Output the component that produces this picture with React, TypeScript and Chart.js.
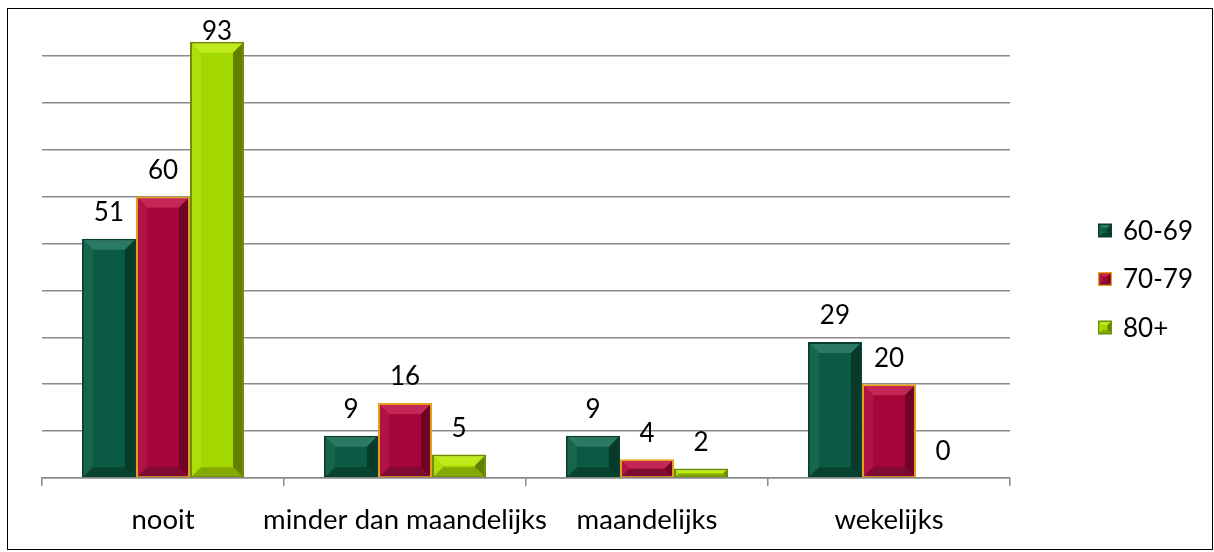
import React, { useEffect, useRef } from "react";
import { Chart, registerables } from "chart.js";

Chart.register(...registerables);

const categories = ["nooit", "minder dan maandelijks", "maandelijks", "wekelijks"];
const seriesNames = ["60-69", "70-79", "80+"];
const values6069 = [51, 9, 9, 29];
const values7079 = [60, 16, 4, 20];
const values80 = [93, 5, 2, 0];
const yTicksMax = 100;
const yStep = 10;

const FONT = "Lato, 'Liberation Sans', sans-serif";
const FONT_SIZE = 26;
const CAT_FONT_SIZE = 27.5;

const palette = [
  { base: "#0B5A44", top: "#2A7A63", left: "#16654D", right: "#063A2B", bottom: "#07432F", border: "#083E2F" },
  { base: "#A4063A", top: "#C42655", left: "#B01447", right: "#700427", bottom: "#7E0B30", border: "#E3A21A" },
  { base: "#A3D700", top: "#BFEA1C", left: "#AEDE0C", right: "#627F00", bottom: "#84A900", border: "#6E8C00" },
];

function drawBevel(ctx: CanvasRenderingContext2D, x0: number, y0: number, x1: number, y1: number, c: any, maxB: number) {
  const w = x1 - x0;
  const h = y1 - y0;
  if (w <= 0 || h <= 0) return;
  const b = Math.min(maxB, h / 2, w / 2);
  const poly = (pts: number[][], col: string) => {
    ctx.beginPath();
    ctx.moveTo(pts[0][0], pts[0][1]);
    for (let i = 1; i < pts.length; i++) ctx.lineTo(pts[i][0], pts[i][1]);
    ctx.closePath();
    ctx.fillStyle = col;
    ctx.fill();
  };
  poly([[x0, y0], [x1, y0], [x1 - b, y0 + b], [x0 + b, y0 + b]], c.top);
  poly([[x0, y0], [x0 + b, y0 + b], [x0 + b, y1 - b], [x0, y1]], c.left);
  poly([[x1, y0], [x1, y1], [x1 - b, y1 - b], [x1 - b, y0 + b]], c.right);
  poly([[x0, y1], [x0 + b, y1 - b], [x1 - b, y1 - b], [x1, y1]], c.bottom);
}

const bevelPlugin = {
  id: "bevelLabels",
  afterDatasetsDraw(chart: any) {
    const ctx = chart.ctx as CanvasRenderingContext2D;
    const area = chart.chartArea;
    ctx.save();
    chart.data.datasets.forEach((ds: any, di: number) => {
      const meta = chart.getDatasetMeta(di);
      const c = palette[di];
      meta.data.forEach((el: any, j: number) => {
        const p = el.getProps(["x", "y", "base", "width"], true);
        const x0 = p.x - p.width / 2 + 2;
        const x1 = p.x + p.width / 2 - 2;
        const y0 = Math.min(p.y, p.base) + 2;
        const y1 = Math.max(p.y, p.base) - 1;
        drawBevel(ctx, x0, y0, x1, y1, c, 9);
        const v = ds.data[j];
        let cy = Math.min(p.y, p.base) - 26;
        if (cy < area.top + 23) cy = area.top + 23;
        ctx.fillStyle = "#000";
        ctx.font = `${FONT_SIZE}px ${FONT}`;
        ctx.textAlign = "center";
        ctx.textBaseline = "middle";
        ctx.fillText(String(v), p.x, cy);
      });
    });
    ctx.restore();
  },
  afterDraw(chart: any) {
    const ctx = chart.ctx as CanvasRenderingContext2D;
    const H = chart.height;
    ctx.save();
    chart.data.datasets.forEach((ds: any, i: number) => {
      const c = palette[i];
      const cy = H / 2 + (i - 1) * 48.5;
      const bx = 1090;
      const s = 14;
      ctx.fillStyle = c.border;
      ctx.fillRect(bx, cy - s / 2, s, s);
      ctx.fillStyle = c.base;
      ctx.fillRect(bx + 1.5, cy - s / 2 + 1.5, s - 3, s - 3);
      drawBevel(ctx, bx + 1.5, cy - s / 2 + 1.5, bx + s - 1.5, cy + s / 2 - 1.5, c, 3);
      ctx.fillStyle = "#000";
      ctx.font = `${FONT_SIZE}px ${FONT}`;
      ctx.textAlign = "left";
      ctx.textBaseline = "middle";
      ctx.fillText(ds.label, bx + 25, cy + 1);
    });
    ctx.restore();
  },
};

export default function App() {
  const ref = useRef<HTMLCanvasElement>(null);
  useEffect(() => {
    if (!ref.current) return;
    const chart = new Chart(ref.current, {
      type: "bar",
      data: {
        labels: categories,
        datasets: [values6069, values7079, values80].map((d, i) => ({
          label: seriesNames[i],
          data: d,
          backgroundColor: palette[i].base,
          borderColor: palette[i].border,
          borderWidth: 2,
          borderSkipped: false,
          categoryPercentage: 0.67,
          barPercentage: 1,
        })),
      },
      options: {
        animation: false,
        responsive: false,
        maintainAspectRatio: false,
        layout: { padding: { left: 0, right: 202, top: 0, bottom: 0 } },
        plugins: { legend: { display: false }, tooltip: { enabled: false } },
        scales: {
          x: {
            grid: { drawOnChartArea: false, drawTicks: true, tickLength: 8, color: "#8a8a8a", lineWidth: 1.5, offset: true },
            border: { display: true, color: "#8a8a8a", width: 1.5 },
            ticks: { color: "#000", font: { family: FONT, size: CAT_FONT_SIZE }, padding: 18, maxRotation: 0, autoSkip: false },
            afterFit: (s: any) => { s.height = 71; },
          },
          y: {
            min: 0,
            max: yTicksMax,
            ticks: { display: false, stepSize: yStep },
            grid: {
              drawTicks: false,
              color: (c: any) => (c.tick && c.tick.value === yTicksMax ? "rgba(0,0,0,0)" : "#8a8a8a"),
              lineWidth: 1.5,
            },
            border: { display: false },
            afterFit: (s: any) => { s.width = 34; },
          },
        },
      },
      plugins: [bevelPlugin],
    });
    return () => chart.destroy();
  }, []);
  return (
    <div
      style={{
        position: "fixed",
        left: 7,
        top: 8,
        width: 1206,
        height: 542,
        border: "1px solid #000",
        boxSizing: "border-box",
        background: "#fff",
      }}
    >
      <canvas ref={ref} width={1204} height={540} style={{ display: "block" }} />
    </div>
  );
}
